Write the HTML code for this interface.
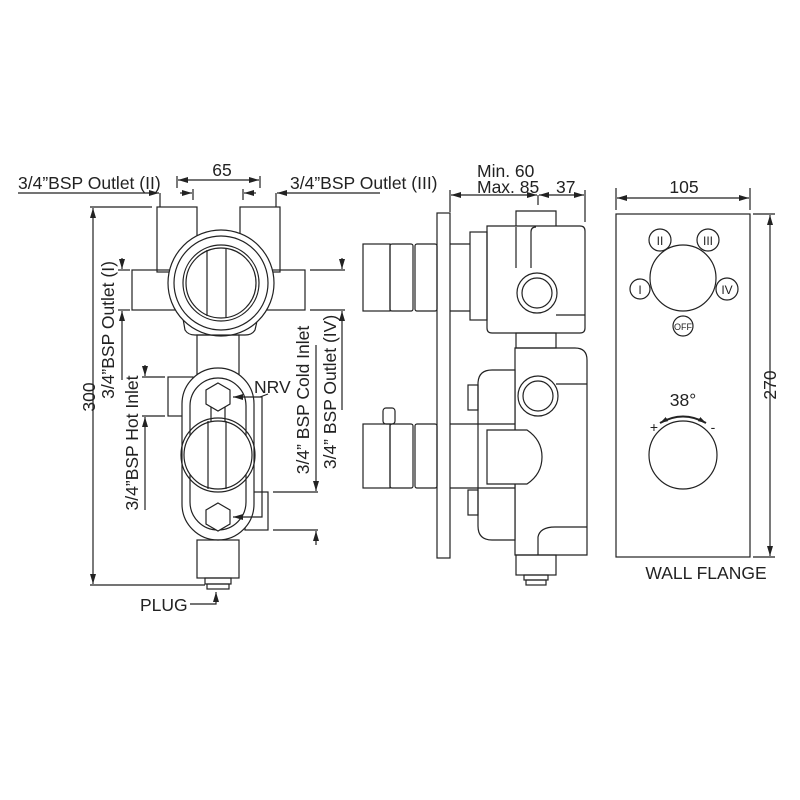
<!DOCTYPE html>
<html><head><meta charset="utf-8"><style>
html,body{margin:0;padding:0;background:#fff;}
svg{display:block;}
text{font-family:"Liberation Sans",sans-serif;fill:#222;}
</style></head><body>
<svg width="800" height="800" viewBox="0 0 800 800" xmlns="http://www.w3.org/2000/svg">
<defs>
<marker id="a" viewBox="0 0 10 6" refX="10" refY="3" markerWidth="9" markerHeight="5" orient="auto-start-reverse"><path d="M0,0L10,3L0,6z" fill="#222"/></marker>
<marker id="s" viewBox="0 0 10 6" refX="10" refY="3" markerWidth="4" markerHeight="3" orient="auto-start-reverse"><path d="M0,0L10,3L0,6z" fill="#222"/></marker>
</defs>
<g fill="none" stroke="#222" stroke-width="1.2">
<line x1="177" y1="176" x2="177" y2="188"/><line x1="260" y1="176" x2="260" y2="188"/>
<line x1="178" y1="180" x2="259" y2="180" marker-start="url(#a)" marker-end="url(#a)"/>
<line x1="193" y1="189" x2="193" y2="200"/><line x1="243" y1="189" x2="243" y2="200"/>
<line x1="180" y1="193" x2="192" y2="193" marker-end="url(#a)"/><line x1="256" y1="193" x2="244" y2="193" marker-end="url(#a)"/>
<line x1="18" y1="193" x2="159" y2="193" marker-end="url(#a)"/><line x1="160" y1="193" x2="160" y2="207"/>
<line x1="380" y1="193" x2="277" y2="193" marker-end="url(#a)"/><line x1="276" y1="193" x2="276" y2="207"/>
<line x1="152" y1="207" x2="90" y2="207"/><line x1="205" y1="585" x2="90" y2="585"/>
<line x1="93" y1="208" x2="93" y2="584" marker-start="url(#a)" marker-end="url(#a)"/>
<rect x="157" y="207" width="40" height="65"/><rect x="240" y="207" width="40" height="65"/>
<rect x="132" y="270" width="173" height="40"/>
<path d="M178,290 L185,330 Q188,335 195,335 L245,335 Q252,335 255,330 L264,290" fill="#fff"/>
<circle cx="221" cy="283" r="53" fill="#fff"/>
<circle cx="221" cy="283" r="47"/><circle cx="221" cy="283" r="38"/><circle cx="221" cy="283" r="35"/>
<line x1="207" y1="250" x2="207" y2="316"/><line x1="226" y1="248" x2="226" y2="318"/>
<rect x="197" y="335" width="42" height="43"/>
<line x1="118" y1="270" x2="130" y2="270"/><line x1="122" y1="258" x2="122" y2="269" marker-end="url(#a)"/>
<line x1="118" y1="310" x2="130" y2="310"/><line x1="122" y1="380" x2="122" y2="311" marker-end="url(#a)"/>
<line x1="310" y1="270" x2="345" y2="270"/><line x1="342" y1="258" x2="342" y2="269" marker-end="url(#a)"/>
<line x1="310" y1="310" x2="345" y2="310"/><line x1="342" y1="410" x2="342" y2="311" marker-end="url(#a)"/>
<rect x="168" y="377" width="25" height="39"/>
<line x1="142" y1="377" x2="165" y2="377"/><line x1="145" y1="365" x2="145" y2="376" marker-end="url(#a)"/>
<line x1="142" y1="416" x2="165" y2="416"/><line x1="145" y1="510" x2="145" y2="417" marker-end="url(#a)"/>
<rect x="245" y="492" width="23" height="38"/>
<line x1="273" y1="492" x2="318" y2="492"/><line x1="316" y1="345" x2="316" y2="491" marker-end="url(#a)"/>
<line x1="273" y1="530" x2="318" y2="530"/><line x1="316" y1="545" x2="316" y2="531" marker-end="url(#a)"/>
<rect x="182" y="368" width="72" height="172" rx="36" fill="#fff"/>
<rect x="190" y="378" width="56" height="152" rx="28"/>
<rect x="211" y="405" width="14" height="20"/>
<circle cx="218" cy="455" r="37"/><circle cx="218" cy="455" r="34" fill="#fff"/>
<line x1="208" y1="421" x2="208" y2="489"/><line x1="226" y1="421" x2="226" y2="489"/>
<polygon points="218,383 230,390 230,404 218,411 206,404 206,390" fill="#fff"/>
<polygon points="218,503 230,510 230,524 218,531 206,524 206,510" fill="#fff"/>
<line x1="258" y1="397" x2="233" y2="397" marker-end="url(#a)"/>
<path d="M258,397 L262,397 L262,517 L233,517" marker-end="url(#a)"/>
<line x1="268" y1="394" x2="260" y2="397"/>
<rect x="197" y="540" width="42" height="38"/>
<rect x="205" y="578" width="26" height="6"/><rect x="207" y="584" width="22" height="5"/>
<path d="M190,604 L216,604 L216,592" marker-end="url(#a)"/>
<line x1="450" y1="190" x2="450" y2="212"/><line x1="585" y1="190" x2="585" y2="222"/><line x1="538" y1="195" x2="538" y2="205"/>
<line x1="451" y1="195" x2="537" y2="195" marker-start="url(#a)" marker-end="url(#a)"/>
<line x1="539" y1="195" x2="584" y2="195" marker-start="url(#a)" marker-end="url(#a)"/>
<rect x="437" y="213" width="13" height="345"/>
<rect x="363" y="244" width="27" height="67"/><rect x="390" y="244" width="23" height="67" rx="2"/><rect x="415" y="244" width="22" height="67" rx="2"/>
<line x1="450" y1="244" x2="470" y2="244"/><line x1="450" y1="311" x2="470" y2="311"/>
<rect x="470" y="232" width="17" height="88"/>
<path d="M487,226 L487,328 Q487,333 492,333 L580,333 Q585,333 585,328 L585,231 Q585,226 580,226 Z"/>
<path d="M516,226 L516,211 L556,211 L556,226"/>
<path d="M516,227 L516,268 M531,268 L531,232 Q531,227 536,227"/>
<line x1="556" y1="315" x2="585" y2="315"/>
<circle cx="537" cy="293" r="20"/><circle cx="537" cy="293" r="15"/>
<rect x="516" y="333" width="40" height="15"/>
<path d="M515,348 L575,348 Q587,348 587,360 L587,555 L515,555 Z"/>
<line x1="556" y1="384" x2="587" y2="384"/>
<path d="M587,527 L555,527 Q540,527 538,537 L538,555"/>
<path d="M492,370 L515,370 L515,540 L492,540 Q478,540 478,526 L478,384 Q478,370 492,370 Z" fill="#fff"/>
<line x1="478" y1="424" x2="515" y2="424"/><line x1="478" y1="488" x2="515" y2="488"/>
<rect x="468" y="385" width="10" height="25"/><rect x="468" y="490" width="10" height="25"/>
<circle cx="538" cy="396" r="20" fill="#fff"/><circle cx="538" cy="396" r="15"/>
<rect x="363" y="424" width="27" height="64"/><rect x="390" y="424" width="23" height="64" rx="2"/><rect x="415" y="424" width="22" height="64" rx="2"/>
<line x1="450" y1="424" x2="478" y2="424"/><line x1="450" y1="488" x2="478" y2="488"/>
<rect x="383" y="408" width="12" height="16" rx="3"/>
<path d="M487,430 L527,430 Q542,440 542,457 Q542,474 527,484 L487,484 Z" fill="#fff"/>
<rect x="516" y="555" width="40" height="20"/><rect x="524" y="575" width="24" height="5"/><rect x="526" y="580" width="20" height="5"/>
<line x1="616" y1="188" x2="616" y2="210"/><line x1="750" y1="188" x2="750" y2="210"/>
<line x1="617" y1="198" x2="749" y2="198" marker-start="url(#a)" marker-end="url(#a)"/>
<line x1="753" y1="214" x2="775" y2="214"/><line x1="753" y1="557" x2="775" y2="557"/>
<line x1="770" y1="215" x2="770" y2="556" marker-start="url(#a)" marker-end="url(#a)"/>
<rect x="616" y="214" width="134" height="343"/>
<circle cx="683" cy="278" r="33"/>
<circle cx="660" cy="240" r="11" fill="#fff"/><circle cx="708" cy="240" r="11" fill="#fff"/>
<circle cx="640" cy="289" r="10" fill="#fff"/><circle cx="727" cy="289" r="11" fill="#fff"/>
<circle cx="683" cy="326" r="10"/>
<circle cx="683" cy="455" r="34"/>
<path d="M660,423 Q683,410 706,423" stroke-width="2" marker-start="url(#s)" marker-end="url(#s)"/>
</g>
<g font-size="17.5">
<text x="18" y="189">3/4”BSP Outlet (II)</text>
<text x="290" y="189">3/4”BSP Outlet (III)</text>
<text x="222" y="176" text-anchor="middle">65</text>
<text x="254" y="393">NRV</text>
<text x="140" y="611">PLUG</text>
<text x="477" y="177">Min. 60</text>
<text x="477" y="193">Max. 85</text>
<text x="556" y="193">37</text>
<text x="684" y="193" text-anchor="middle">105</text>
<text x="683" y="406" text-anchor="middle">38°</text>
<text x="706" y="579" text-anchor="middle">WALL FLANGE</text>
<text transform="translate(95,397) rotate(-90)" text-anchor="middle">300</text>
<text transform="translate(776,385) rotate(-90)" text-anchor="middle">270</text>
<text transform="translate(114,330) rotate(-90)" text-anchor="middle">3/4”BSP Outlet (I)</text>
<text transform="translate(138,443) rotate(-90)" text-anchor="middle">3/4”BSP Hot Inlet</text>
<text transform="translate(309,400) rotate(-90)" text-anchor="middle">3/4” BSP Cold Inlet</text>
<text transform="translate(336,392) rotate(-90)" text-anchor="middle">3/4” BSP Outlet (IV)</text>
</g>
<g font-size="12" text-anchor="middle">
<text x="660" y="245">II</text><text x="708" y="245">III</text>
<text x="640" y="294">I</text><text x="727" y="294">IV</text>
<text x="683" y="330" font-size="9">OFF</text>
<text x="654" y="432" font-size="14">+</text><text x="713" y="432" font-size="14">-</text>
</g>
</svg>
</body></html>
